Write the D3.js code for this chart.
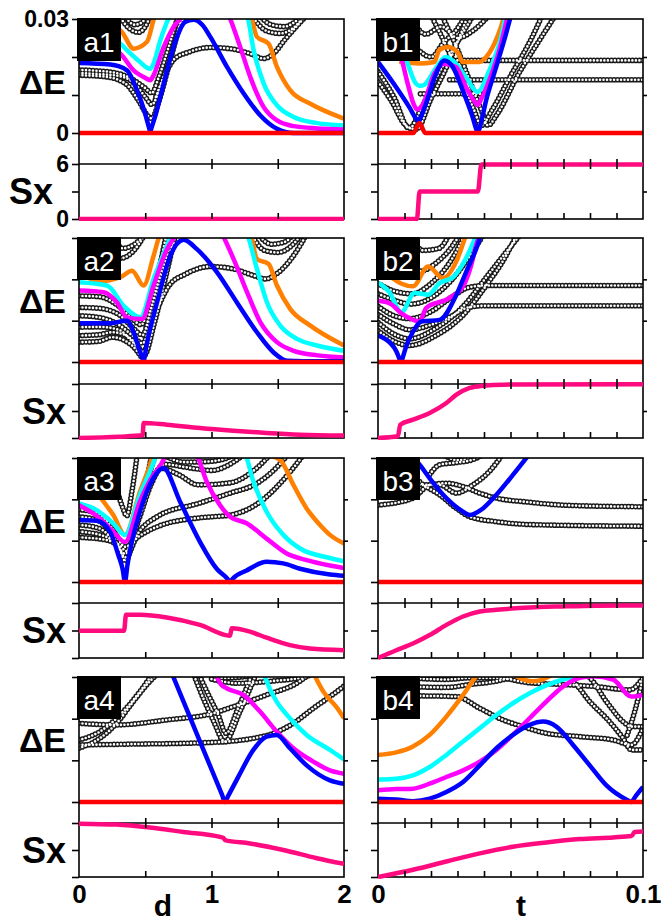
<!DOCTYPE html>
<html><head><meta charset="utf-8">
<script src="https://cdn.jsdelivr.net/npm/d3@7"></script>
<style>body{margin:0;background:#fff}</style>
</head><body><div id="chart"></div>
<script>
// ---- data: [x, dE] for levels, [x, Sx] for entropy ----
var redA = [[0,0],[2,0]]
var redB = [[0,0],[0.1,0]]

// a1
var a1Blue = [[0,0.0184],[0.236,0.018],[0.362,0.0165],[0.438,0.0112],[0.5,0.005],[0.53,0.0012],[0.538,0.0003],[0.546,0.0012],[0.58,0.005],[0.639,0.013],[0.74,0.0253],[0.8,0.0292],[0.865,0.0298],[0.93,0.0285],[0.991,0.0253],[1.117,0.0174],[1.243,0.0104],[1.369,0.0046],[1.494,0.0011],[1.62,0],[2,0]]
var a1Magenta = [[0,0.024],[0.15,0.0235],[0.312,0.0209],[0.412,0.0165],[0.5,0.0145],[0.538,0.0139],[0.56,0.015],[0.639,0.0226],[0.714,0.0279],[0.79,0.031],[0.96,0.04],[1.13,0.031],[1.217,0.0226],[1.293,0.0147],[1.394,0.0068],[1.494,0.0033],[1.62,0.0018],[1.8,0.0012],[2,0.0009]]
var a1Cyan = [[0,0.026],[0.15,0.0255],[0.312,0.0235],[0.362,0.0218],[0.45,0.019],[0.538,0.0169],[0.56,0.018],[0.614,0.0244],[0.689,0.031],[1.0,0.04],[1.268,0.031],[1.318,0.0218],[1.394,0.013],[1.494,0.0073],[1.62,0.0042],[1.796,0.0026],[2,0.002]]
var a1Orange = [[0.2,0.028],[0.312,0.027],[0.412,0.0222],[0.513,0.024],[0.576,0.031],[0.9,0.04],[1.293,0.031],[1.343,0.0253],[1.431,0.0235],[1.494,0.0174],[1.595,0.0112],[1.746,0.0077],[2,0.0038]]
var a1Black = [
 [[0,0.0166],[0.25,0.016],[0.4,0.0142],[0.5,0.0118],[0.55,0.0105],[0.6,0.0145],[0.68,0.023],[0.75,0.031]],
 [[0,0.0152],[0.2,0.0148],[0.35,0.013],[0.45,0.0085],[0.52,0.0045],[0.55,0.0038],[0.6,0.008],[0.68,0.018],[0.76,0.028],[0.8,0.031]],
 [[0,0.0158],[0.15,0.0155],[0.3,0.015],[0.42,0.013],[0.5,0.0095],[0.55,0.0075],[0.62,0.013],[0.7,0.021],[0.78,0.031]],
 [[0.58,0.0095],[0.65,0.0155],[0.72,0.0195],[0.82,0.0212],[0.99,0.0225],[1.14,0.0222],[1.29,0.0209],[1.39,0.0196],[1.47,0.0209],[1.55,0.0244],[1.64,0.028],[1.72,0.031]],
 [[1.3,0.031],[1.42,0.0268],[1.52,0.0262],[1.6,0.0272],[1.67,0.0295],[1.7,0.031]],
 [[1.36,0.031],[1.45,0.0285],[1.55,0.028],[1.62,0.029],[1.68,0.031]],
 [[0.3,0.031],[0.38,0.0275],[0.45,0.0265],[0.5,0.028],[0.54,0.031]],
 [[0.34,0.031],[0.42,0.0285],[0.47,0.029],[0.52,0.031]]
]
var a1Sx = [[0,0],[2,0]]

// b1
var b1Red = [[0,0],[0.0133,0],[0.0156,0.0026],[0.0179,0],[0.1,0]]
var b1Blue = [[0,0.0187],[0.0068,0.0121],[0.0118,0.0068],[0.0145,0.0036],[0.0153,0.003],[0.0162,0.0042],[0.0181,0.0077],[0.0219,0.0156],[0.025,0.0191],[0.0282,0.0174],[0.032,0.0112],[0.0357,0.0042],[0.0372,0.0008],[0.0377,0.0002],[0.0383,0.0012],[0.0408,0.0086],[0.0446,0.0174],[0.0483,0.0261],[0.0502,0.031]]
var b1Magenta = [[0.004,0.026],[0.0087,0.02],[0.0112,0.013],[0.0135,0.0075],[0.0148,0.0062],[0.0169,0.0075],[0.0213,0.0156],[0.025,0.0182],[0.0294,0.0174],[0.0332,0.0121],[0.0365,0.0082],[0.0376,0.0073],[0.039,0.009],[0.042,0.0139],[0.0458,0.0218],[0.049,0.031]]
var b1Cyan = [[0.008,0.024],[0.0112,0.0182],[0.0143,0.013],[0.0158,0.0124],[0.0175,0.0127],[0.0213,0.0165],[0.0257,0.02],[0.0294,0.0182],[0.0332,0.0147],[0.0376,0.0108],[0.042,0.0165],[0.0458,0.0235],[0.0483,0.031]]
var b1Orange = [[0.008,0.0188],[0.0156,0.0183],[0.0213,0.0187],[0.0231,0.0218],[0.0263,0.0226],[0.03,0.0213],[0.032,0.0187],[0.0382,0.0187],[0.0408,0.02],[0.0439,0.0235],[0.0464,0.0279],[0.0477,0.031]]
var b1Black = [
 [[0,0.0162],[0.006,0.0095],[0.0118,0.0012],[0.016,0.006],[0.022,0.0145],[0.03,0.024],[0.036,0.031]],
 [[0,0.0135],[0.005,0.0085],[0.0105,0.002],[0.0145,0.001],[0.02,0.009],[0.027,0.019],[0.034,0.031]],
 [[0.02,0.031],[0.026,0.0225],[0.032,0.013],[0.036,0.0065],[0.039,0.002],[0.043,0.006],[0.05,0.015],[0.058,0.025],[0.062,0.031]],
 [[0.024,0.031],[0.03,0.022],[0.035,0.013],[0.039,0.006],[0.0415,0.002],[0.045,0.005],[0.053,0.0155],[0.061,0.0245],[0.067,0.031]],
 [[0.026,0.0191],[0.1,0.0191]],
 [[0.027,0.014],[0.1,0.014]],
 [[0.016,0.0103],[0.042,0.0103]],
 [[0.012,0.031],[0.018,0.026],[0.024,0.028],[0.03,0.025],[0.036,0.027],[0.042,0.031]],
 [[0.015,0.022],[0.02,0.02],[0.025,0.024],[0.03,0.0275],[0.033,0.031]]
]
var b1Sx = [[0,0],[0.0147,0],[0.0157,3],[0.0377,3],[0.039,5.95],[0.1,5.95]]

// a2
var a2Blue = [[0,0.0094],[0.236,0.0094],[0.362,0.01],[0.412,0.0072],[0.46,0.0025],[0.482,0.0006],[0.488,0.0001],[0.495,0.0012],[0.51,0.004],[0.589,0.0144],[0.689,0.0257],[0.79,0.0296],[0.89,0.0273],[1.042,0.0217],[1.192,0.0144],[1.343,0.0072],[1.469,0.0023],[1.57,0.0003],[1.696,0.0002],[2,0.0002]]
var a2Magenta = [[0,0.0173],[0.186,0.0169],[0.287,0.0144],[0.362,0.0108],[0.475,0.0104],[0.563,0.0185],[0.664,0.0273],[0.74,0.031],[0.9,0.038],[1.079,0.031],[1.167,0.0249],[1.268,0.0169],[1.369,0.0096],[1.494,0.0048],[1.62,0.0027],[1.8,0.0016],[2,0.0011]]
var a2Cyan = [[0,0.0193],[0.211,0.0185],[0.337,0.0136],[0.463,0.0108],[0.563,0.0201],[0.664,0.0281],[0.702,0.031],[1.0,0.04],[1.268,0.031],[1.343,0.0225],[1.419,0.0144],[1.519,0.0088],[1.645,0.0056],[1.796,0.004],[2,0.0027]]
var a2Orange = [[0,0.022],[0.15,0.0195],[0.312,0.0205],[0.4,0.0221],[0.488,0.0185],[0.563,0.0257],[0.614,0.031],[0.95,0.04],[1.293,0.031],[1.343,0.0249],[1.431,0.0237],[1.494,0.0185],[1.595,0.0128],[1.746,0.0088],[2,0.004]]
var a2Black = [
 [[0,0.016],[0.15,0.0158],[0.3,0.0135],[0.4,0.0105],[0.47,0.009],[0.53,0.014],[0.6,0.022],[0.66,0.031]],
 [[0,0.0132],[0.15,0.013],[0.3,0.0115],[0.4,0.0085],[0.48,0.0065],[0.54,0.0125],[0.61,0.021],[0.68,0.031]],
 [[0,0.0112],[0.15,0.0108],[0.3,0.009],[0.4,0.0065],[0.48,0.0045],[0.55,0.011],[0.62,0.02],[0.7,0.031]],
 [[0,0.0084],[0.15,0.0085],[0.3,0.0078],[0.4,0.005],[0.485,0.0025],[0.56,0.01],[0.64,0.02],[0.72,0.031]],
 [[0,0.0064],[0.15,0.0066],[0.25,0.0072],[0.35,0.0065],[0.45,0.0035],[0.49,0.0015],[0.57,0.0095],[0.65,0.02],[0.73,0.031]],
 [[0,0.0048],[0.15,0.005],[0.25,0.006],[0.4,0.004],[0.47,0.0012]],
 [[0.6,0.0135],[0.68,0.0185],[0.8,0.0212],[0.99,0.0231],[1.17,0.0225],[1.32,0.0209],[1.41,0.0201],[1.49,0.0213],[1.6,0.0249],[1.72,0.031]],
 [[0.1,0.031],[0.2,0.027],[0.3,0.025],[0.4,0.0265],[0.5,0.031]],
 [[0.25,0.031],[0.33,0.0275],[0.42,0.0285],[0.5,0.031]],
 [[1.3,0.031],[1.4,0.027],[1.5,0.0265],[1.6,0.028],[1.68,0.031]],
 [[1.35,0.031],[1.45,0.0285],[1.55,0.029],[1.62,0.031]]
]
var a2Sx = [[0,0],[0.3,0.15],[0.48,0.3],[0.488,1.67],[0.662,1.48],[0.913,1.11],[1.165,0.81],[1.416,0.56],[1.668,0.37],[2,0.28]]

// b2
var b2Blue = [[0,0.0064],[0.0043,0.0048],[0.007,0.0025],[0.0082,0.0006],[0.0087,0],[0.0092,0.0008],[0.0105,0.0035],[0.0131,0.0072],[0.0164,0.0098],[0.0233,0.0102],[0.0294,0.016],[0.0332,0.0217],[0.037,0.0273],[0.039,0.031]]
var b2Magenta = [[0,0.0148],[0.0043,0.0142],[0.0094,0.0115],[0.0157,0.0098],[0.0182,0.0131],[0.027,0.0155],[0.0321,0.0183],[0.035,0.023],[0.0371,0.0284],[0.0385,0.031]]
var b2Cyan = [[0,0.0192],[0.0043,0.0169],[0.0088,0.012],[0.0138,0.0167],[0.0189,0.0163],[0.0233,0.0191],[0.0283,0.0205],[0.0321,0.0238],[0.036,0.029],[0.0372,0.031]]
var b2Orange = [[0.004,0.021],[0.0087,0.019],[0.0132,0.0183],[0.0189,0.0231],[0.0245,0.0203],[0.0296,0.0244],[0.0333,0.031]]
var b2Black = [
 [[0,0.0076],[0.0068,0.0048],[0.0118,0.004],[0.0219,0.0064],[0.0319,0.0112],[0.0408,0.0185],[0.0483,0.0257],[0.0525,0.031]],
 [[0,0.0096],[0.0068,0.0065],[0.0118,0.0056],[0.0219,0.0082],[0.0319,0.0133],[0.0415,0.021],[0.0495,0.0275],[0.054,0.031]],
 [[0,0.0115],[0.006,0.0092],[0.012,0.0078],[0.02,0.009],[0.028,0.0112],[0.034,0.0132],[0.04,0.0136],[0.1,0.0136]],
 [[0,0.0135],[0.006,0.0112],[0.012,0.0105],[0.02,0.0122],[0.028,0.0158],[0.034,0.018],[0.04,0.0185],[0.1,0.0185]],
 [[0,0.0165],[0.006,0.015],[0.012,0.014],[0.02,0.0155],[0.028,0.02],[0.035,0.026],[0.04,0.031]],
 [[0,0.019],[0.007,0.017],[0.013,0.0165],[0.02,0.019],[0.027,0.024],[0.033,0.031]],
 [[0.005,0.031],[0.01,0.025],[0.016,0.022],[0.022,0.024],[0.028,0.028],[0.031,0.031]],
 [[0.012,0.031],[0.017,0.027],[0.023,0.0275],[0.027,0.031]]
]
var b2Sx = [[0,0],[0.0075,0.19],[0.0084,1.48],[0.0132,2.04],[0.0195,2.78],[0.0258,3.89],[0.0296,4.81],[0.0346,5.56],[0.0396,5.81],[0.0472,5.93],[0.1,5.98]]

// a3
var a3Blue = [[0,0.015],[0.133,0.0148],[0.234,0.0122],[0.297,0.0065],[0.33,0.003],[0.347,0],[0.365,0.004],[0.46,0.017],[0.561,0.0251],[0.636,0.0276],[0.762,0.0195],[0.913,0.0097],[1.039,0.0032],[1.12,0.0008],[1.14,0],[1.16,0.0008],[1.265,0.0028],[1.416,0.0049],[1.542,0.0045],[1.668,0.0032],[1.894,0.0018],[2,0.0015]]
var a3Magenta = [[0,0.0186],[0.158,0.0154],[0.259,0.0122],[0.347,0.0097],[0.46,0.0195],[0.561,0.0259],[0.611,0.028],[0.662,0.031],[0.78,0.036],[0.888,0.031],[0.964,0.0243],[1.064,0.0186],[1.14,0.0158],[1.265,0.0142],[1.416,0.0105],[1.567,0.0069],[1.718,0.0053],[1.894,0.004],[2,0.0034]]
var a3Cyan = [[0,0.019],[0.133,0.0174],[0.259,0.0142],[0.347,0.0114],[0.46,0.0211],[0.561,0.0288],[0.586,0.031],[0.9,0.04],[1.253,0.031],[1.316,0.0243],[1.416,0.017],[1.542,0.0114],[1.668,0.0081],[1.894,0.0058],[2,0.005]]
var a3Orange = [[0.1,0.023],[0.184,0.0195],[0.259,0.0162],[0.347,0.0114],[0.46,0.0219],[0.536,0.0284],[0.561,0.031],[1.0,0.04],[1.39,0.031],[1.516,0.0296],[1.618,0.0235],[1.718,0.0178],[1.819,0.0138],[1.894,0.0114],[2,0.0093]]
var a3Black = [
 [[0,0.0175],[0.15,0.0165],[0.25,0.013],[0.35,0.0085],[0.45,0.011],[0.6,0.0135],[0.9,0.0155],[1.14,0.0162],[1.35,0.019],[1.55,0.025],[1.7,0.031]],
 [[0,0.0158],[0.15,0.0148],[0.25,0.0115],[0.35,0.006],[0.45,0.012],[0.6,0.016],[0.9,0.019],[1.14,0.0215],[1.35,0.024],[1.5,0.028],[1.58,0.031]],
 [[0,0.0138],[0.15,0.013],[0.25,0.0105],[0.35,0.0068],[0.45,0.015],[0.55,0.024],[0.62,0.0275],[0.75,0.026],[0.9,0.0235],[1.14,0.024],[1.3,0.0265],[1.45,0.031]],
 [[0,0.0122],[0.2,0.011],[0.3,0.009],[0.36,0.0075],[0.45,0.0175],[0.52,0.025],[0.58,0.031]],
 [[0,0.0108],[0.2,0.0102],[0.3,0.0085],[0.35,0.005],[0.4,0.009],[0.48,0.02],[0.55,0.031]],
 [[0.55,0.025],[0.65,0.0285],[0.8,0.0278],[1.0,0.027],[1.14,0.0285],[1.25,0.031]],
 [[0.62,0.031],[0.8,0.029],[1.0,0.0292],[1.2,0.031]],
 [[0.2,0.031],[0.27,0.024],[0.33,0.018],[0.36,0.016],[0.4,0.022],[0.44,0.031]]
]
var a3Sx = [[0,2.98],[0.34,2.98],[0.355,4.71],[0.46,4.71],[0.662,4.42],[0.913,3.61],[1.14,2.43],[1.152,3.24],[1.29,2.87],[1.416,2.21],[1.592,1.4],[1.743,1.03],[2,0.85]]

// b3
var b3Blue = [[0.012,0.031],[0.0157,0.0284],[0.0195,0.0251],[0.0258,0.0203],[0.0321,0.017],[0.0346,0.0162],[0.0396,0.0178],[0.0447,0.0211],[0.0509,0.0259],[0.0572,0.031]]
var b3Black = [
 [[0,0.0186],[0.0132,0.0203],[0.0195,0.0235],[0.0258,0.0239],[0.0321,0.0231],[0.0384,0.0215],[0.0447,0.0203],[0.0572,0.0193],[0.0698,0.0186],[0.1,0.0182]],
 [[0.01,0.029],[0.0157,0.0243],[0.0233,0.0211],[0.0296,0.0178],[0.0346,0.0158],[0.0447,0.0146],[0.0572,0.0139],[0.1,0.0135]],
 [[0.012,0.0245],[0.0157,0.0235],[0.0233,0.0235],[0.0296,0.0215],[0.0358,0.0235],[0.0421,0.0268],[0.0472,0.031]],
 [[0.0195,0.026],[0.0233,0.0284],[0.0283,0.0288],[0.0358,0.0296],[0.04,0.031]],
 [[0.024,0.031],[0.03,0.0295],[0.035,0.0302]]
]
var b3Sx = [[0,0],[0.0069,0.85],[0.0132,1.58],[0.0195,2.5],[0.0258,3.61],[0.0321,4.53],[0.0384,5.08],[0.0447,5.26],[0.0572,5.52],[0.0698,5.63],[0.0824,5.71],[0.1,5.74]]

// a4
var a4Blue = [[0.62,0.037],[0.712,0.03],[0.9,0.0155],[1.08,0.0017],[1.102,0],[1.125,0.0014],[1.2,0.0059],[1.316,0.0125],[1.416,0.0157],[1.492,0.0161],[1.592,0.0129],[1.718,0.0088],[1.894,0.0052],[2,0.0044]]
var a4Magenta = [[0.95,0.036],[1.026,0.031],[1.07,0.0283],[1.114,0.0273],[1.24,0.0257],[1.366,0.0217],[1.492,0.0169],[1.618,0.0129],[1.769,0.0097],[1.894,0.0076],[2,0.0068]]
var a4Cyan = [[1.33,0.036],[1.391,0.031],[1.45,0.0265],[1.492,0.0241],[1.592,0.0201],[1.718,0.0161],[1.894,0.0125],[2,0.0102]]
var a4Orange = [[1.7,0.036],[1.769,0.031],[1.844,0.0265],[1.95,0.0225],[2,0.0201]]
var a4Black = [
 [[0,0.0189],[0.284,0.0185],[0.662,0.0197],[1.014,0.0213],[1.165,0.0229],[1.416,0.0257],[1.668,0.029],[1.75,0.031]],
 [[0,0.0137],[0.41,0.0139],[0.913,0.0142],[1.114,0.0145],[1.316,0.0153],[1.467,0.0165],[1.618,0.0189],[1.769,0.0225],[1.894,0.0253],[2,0.0278]],
 [[0,0.0129],[0.158,0.0153],[0.284,0.0189],[0.41,0.0241],[0.536,0.029],[0.6,0.031]],
 [[0,0.0149],[0.158,0.0169],[0.284,0.0201],[0.46,0.0265],[0.56,0.031]],
 [[0.86,0.031],[0.95,0.024],[1.014,0.0195],[1.1,0.0145],[1.215,0.0217],[1.34,0.031]],
 [[0.9,0.031],[0.98,0.0255],[1.05,0.021],[1.11,0.0165],[1.2,0.0225],[1.31,0.031]],
 [[1.0,0.0295],[1.2,0.0285],[1.45,0.029],[1.7,0.03],[1.8,0.031]],
 [[0.95,0.031],[1.1,0.0298],[1.3,0.0302]]
]
var a4Sx = [[0,5.93],[0.284,5.82],[0.536,5.49],[0.787,5.01],[1.064,4.46],[1.09,4.35],[1.102,4.1],[1.29,3.73],[1.542,3.0],[1.794,2.09],[2,1.46]]

// b4
var b4Blue = [[0,0.0008],[0.0069,0.0006],[0.0132,0.0002],[0.0195,0.0008],[0.0258,0.0024],[0.0321,0.0048],[0.0384,0.0088],[0.0447,0.0129],[0.0509,0.0161],[0.0572,0.0185],[0.0623,0.0193],[0.0673,0.0181],[0.0736,0.0137],[0.0799,0.0088],[0.0862,0.004],[0.094,0.0005],[0.0956,0],[0.097,0.0012],[0.1,0.0036]]
var b4Magenta = [[0,0.0028],[0.0069,0.0031],[0.0132,0.0032],[0.0195,0.0044],[0.0258,0.006],[0.0321,0.0076],[0.0384,0.0097],[0.0447,0.0125],[0.0509,0.0161],[0.0572,0.0201],[0.0635,0.0241],[0.0698,0.0277],[0.0761,0.0298],[0.0811,0.0302],[0.0887,0.0294],[0.0956,0.0253],[0.1,0.0257]]
var b4Cyan = [[0,0.0054],[0.0069,0.0056],[0.0132,0.0064],[0.0195,0.0084],[0.0258,0.0113],[0.0321,0.0145],[0.0384,0.0177],[0.0447,0.0209],[0.0509,0.0237],[0.0572,0.0261],[0.0635,0.028],[0.0698,0.0294],[0.0748,0.0302],[0.08,0.032]]
var b4Orange = [[0,0.0113],[0.0069,0.0119],[0.0132,0.0133],[0.0195,0.0161],[0.0258,0.0205],[0.0321,0.0257],[0.0371,0.0302],[0.045,0.034],[0.0522,0.0302],[0.0585,0.029],[0.0648,0.0302],[0.07,0.033]]
var b4Black = [
 [[0.012,0.0298],[0.0258,0.0294],[0.0346,0.0298],[0.0447,0.0298],[0.0572,0.0286],[0.0698,0.0282],[0.0824,0.0277],[0.095,0.0269],[0.1,0.0298]],
 [[0.012,0.0277],[0.0258,0.0275],[0.0346,0.0282],[0.0447,0.029],[0.052,0.0302]],
 [[0.012,0.0255],[0.0296,0.0253],[0.0384,0.0225],[0.0472,0.0197],[0.0547,0.0181],[0.0635,0.0165],[0.0761,0.0157],[0.0887,0.0149],[0.0956,0.0137],[0.1,0.0177]],
 [[0.07,0.031],[0.0748,0.0282],[0.0799,0.0241],[0.0862,0.0201],[0.0925,0.0153],[0.0956,0.0125],[0.1,0.0125]],
 [[0.076,0.031],[0.0799,0.0298],[0.0862,0.0241],[0.0925,0.0193],[0.0956,0.0181],[0.1,0.0181]],
 [[0.094,0.016],[0.097,0.022],[0.1,0.0298]]
]
var b4Sx = [[0,0],[0.0132,0.8],[0.0258,1.72],[0.0384,2.63],[0.0509,3.37],[0.0635,3.84],[0.0761,4.21],[0.0887,4.4],[0.0956,4.55],[0.0969,5.0],[0.1,5.05]]

// ---- layout ----
var W = 661, H = 922
var colX = [[79,344],[378,643]]
var rowTop = [19,238,458,677], rowZero = [133,362,582,802], sxTop = [164,384,603,823], sxBot = [219,438,658,877]
var font = "'Liberation Sans', Arial, sans-serif"
var colors = {orange:"#ff8000", cyan:"#00ffff", magenta:"#ff00ff", blue:"#0000ff", red:"#ff0000", sx:"#ff0a7f"}

var panels = [
 {name:"a1",col:0,row:0,black:a1Black,orange:a1Orange,cyan:a1Cyan,magenta:a1Magenta,blue:a1Blue,red:redA,sx:a1Sx},
 {name:"b1",col:1,row:0,black:b1Black,orange:b1Orange,cyan:b1Cyan,magenta:b1Magenta,blue:b1Blue,red:b1Red,sx:b1Sx},
 {name:"a2",col:0,row:1,black:a2Black,orange:a2Orange,cyan:a2Cyan,magenta:a2Magenta,blue:a2Blue,red:redA,sx:a2Sx},
 {name:"b2",col:1,row:1,black:b2Black,orange:b2Orange,cyan:b2Cyan,magenta:b2Magenta,blue:b2Blue,red:redB,sx:b2Sx},
 {name:"a3",col:0,row:2,black:a3Black,orange:a3Orange,cyan:a3Cyan,magenta:a3Magenta,blue:a3Blue,red:redA,sx:a3Sx},
 {name:"b3",col:1,row:2,black:b3Black,orange:null,cyan:null,magenta:null,blue:b3Blue,red:redB,sx:b3Sx},
 {name:"a4",col:0,row:3,black:a4Black,orange:a4Orange,cyan:a4Cyan,magenta:a4Magenta,blue:a4Blue,red:redA,sx:a4Sx},
 {name:"b4",col:1,row:3,black:b4Black,orange:b4Orange,cyan:b4Cyan,magenta:b4Magenta,blue:b4Blue,red:redB,sx:b4Sx}
]

var svg = d3.select("#chart").append("svg").attr("width",W).attr("height",H)
  .style("font-family",font)

function styleAxis(g){
  g.select(".domain").remove()
  g.selectAll("line").attr("stroke","#000").attr("stroke-width",1.6)
  g.selectAll("text").attr("fill","#000").style("font-family",font)
    .style("font-weight","bold").attr("font-size",23)
}

panels.forEach(function(p){
  var x = d3.scaleLinear().domain(p.col ? [0,0.1] : [0,2]).range(colX[p.col])
  var y = d3.scaleLinear().domain([0,0.03]).range([rowZero[p.row],rowTop[p.row]])
  var ys = d3.scaleLinear().domain([0,6]).range([sxBot[p.row],sxTop[p.row]])
  var x0 = colX[p.col][0], x1 = colX[p.col][1]
  var first = p.row==0 && p.col==0

  var lineE = d3.line().curve(d3.curveMonotoneX).x(function(d){return x(d[0])}).y(function(d){return y(d[1])})
  var lineS = d3.line().curve(d3.curveMonotoneX).x(function(d){return x(d[0])}).y(function(d){return ys(d[1])})

  svg.append("clipPath").attr("id","ce"+p.name).append("rect")
    .attr("x",x0).attr("y",rowTop[p.row]).attr("width",x1-x0).attr("height",sxTop[p.row]-rowTop[p.row])
  // the Sx curve may sit on the frame, so let it spill a little past the bottom
  svg.append("clipPath").attr("id","cs"+p.name).append("rect")
    .attr("x",x0).attr("y",sxTop[p.row]-2).attr("width",x1-x0).attr("height",sxBot[p.row]-sxTop[p.row]+4)

  var gE = svg.append("g").attr("clip-path","url(#ce"+p.name+")")
  // open-circle levels: a fat dotted stroke with white centres
  gE.selectAll(".lvl").data(p.black).enter().append("path")
    .attr("d",lineE).attr("fill","none").attr("stroke","#1a1a1a").attr("stroke-width",5.6)
    .attr("stroke-dasharray","0,3.5").attr("stroke-linecap","round")
  gE.selectAll(".lvlin").data(p.black).enter().append("path")
    .attr("d",lineE).attr("fill","none").attr("stroke","#fff").attr("stroke-width",2.6)
    .attr("stroke-dasharray","0,3.5").attr("stroke-linecap","round")

  ;["orange","cyan","magenta","blue","red"].forEach(function(k){
    if(!p[k]) return
    gE.append("path").datum(p[k]).attr("d",lineE).attr("fill","none")
      .attr("stroke",colors[k]).attr("stroke-width",4.5).attr("stroke-linejoin","round")
  })

  // frames
  svg.append("rect").attr("x",x0).attr("y",rowTop[p.row]).attr("width",x1-x0)
    .attr("height",sxBot[p.row]-rowTop[p.row]).attr("fill","none").attr("stroke","#000").attr("stroke-width",1.6)
  svg.append("line").attr("x1",x0).attr("x2",x1).attr("y1",sxTop[p.row]).attr("y2",sxTop[p.row])
    .attr("stroke","#000").attr("stroke-width",1.6)

  // Sx curve on top of the frame
  svg.append("g").attr("clip-path","url(#cs"+p.name+")")
    .append("path").datum(p.sx).attr("d",lineS).attr("fill","none")
    .attr("stroke",colors.sx).attr("stroke-width",4.5).attr("stroke-linejoin","round")

  // y axes
  var ax = svg.append("g").attr("transform","translate("+x0+",0)")
    .call(d3.axisLeft(y).tickValues([0,0.01,0.02,0.03]).tickSize(7).tickPadding(3)
      .tickFormat(function(v){ return first && (v===0 || v===0.03) ? (v===0 ? "0" : "0.03") : "" }))
  styleAxis(ax)
  var axs = svg.append("g").attr("transform","translate("+x0+",0)")
    .call(d3.axisLeft(ys).tickValues([0,3,6]).tickSize(7).tickPadding(3)
      .tickFormat(function(v){ return first && v!==3 ? String(v) : "" }))
  styleAxis(axs)
  var axr = svg.append("g").attr("transform","translate("+x1+",0)")
    .call(d3.axisRight(y).tickValues([0.01,0.02]).tickSize(4).tickFormat(""))
  styleAxis(axr)
  var axrs = svg.append("g").attr("transform","translate("+x1+",0)")
    .call(d3.axisRight(ys).tickValues([3]).tickSize(4).tickFormat(""))
  styleAxis(axrs)

  // x ticks
  var inner = p.col ? d3.range(1,10).map(function(i){return i/100}) : [0.5,1,1.5]
  ;[d3.axisTop, d3.axisBottom].forEach(function(f){
    var g = svg.append("g").attr("transform","translate(0,"+sxTop[p.row]+")")
      .call(f(x).tickValues(inner).tickSize(5).tickFormat(""))
    styleAxis(g)
  })
  var gb = svg.append("g").attr("transform","translate(0,"+sxBot[p.row]+")")
    .call(d3.axisTop(x).tickValues(inner).tickSize(6).tickFormat(""))
  styleAxis(gb)

  if(p.row==3){
    var gl = svg.append("g").attr("transform","translate(0,"+sxBot[p.row]+")")
      .call(d3.axisBottom(x).tickValues(p.col ? [0,0.1] : [0,1,2]).tickSize(0).tickPadding(8)
        .tickFormat(function(v){return String(v)}))
    styleAxis(gl)
    gl.selectAll("text").attr("font-size",26)
    svg.append("text").text(p.col ? "t" : "d")
      .attr("x", p.col ? 521 : 163).attr("y",916).attr("text-anchor","middle")
      .style("font-weight","bold").attr("font-size",30)
  }

  // axis titles (left column only)
  if(p.col==0){
    svg.append("text").text("\u0394E").attr("x",66).attr("y",rowTop[p.row]+75)
      .attr("text-anchor","end").style("font-weight","bold").attr("font-size",34)
    svg.append("text").text("Sx").attr("x",first ? 53 : 66).attr("y",sxTop[p.row]+40)
      .attr("text-anchor","end").style("font-weight","bold").attr("font-size",36)
  }

  // panel tag
  svg.append("rect").attr("x",x0-2).attr("y",rowTop[p.row]-1).attr("width",44).attr("height",43).attr("fill","#000")
  svg.append("text").text(p.name).attr("x",x0+20).attr("y",rowTop[p.row]+33)
    .attr("text-anchor","middle").attr("fill","#fff").attr("font-size",28)
})
</script>
</body></html>
